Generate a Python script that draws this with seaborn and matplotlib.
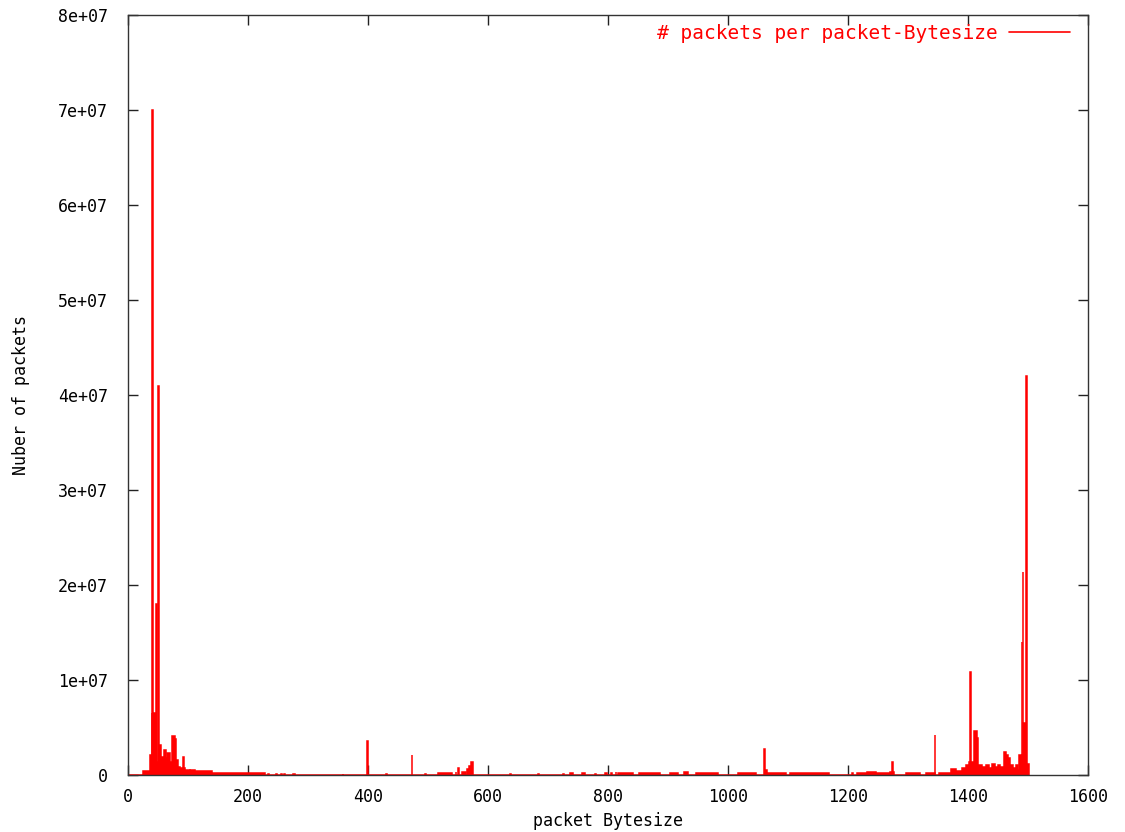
import numpy as np
import pandas as pd
import matplotlib
matplotlib.use("Agg")
import matplotlib.pyplot as plt
import seaborn as sns
from matplotlib.lines import Line2D

# ---- data: runs of packet sizes (inclusive byte ranges) and packet counts ----
seg_lo = [26, 38, 41, 42, 43, 48, 49, 52, 53, 57, 61, 64, 67, 71, 75, 80, 82, 85, 88, 93, 94, 96, 105, 113, 141,
          235, 248, 257, 262, 276, 359, 400, 431, 474, 496, 518, 547, 551, 558, 566, 569, 573,
          638, 685, 726, 738, 757, 780, 796, 806, 814, 817, 853, 904, 928, 947,
          1018, 1061, 1062, 1066, 1104, 1208, 1215, 1233, 1248, 1271, 1274, 1275, 1297, 1330, 1345,
          1352, 1373, 1380, 1391, 1397, 1403, 1404, 1405, 1411, 1415, 1418, 1424, 1431, 1436, 1440,
          1446, 1450, 1454, 1461, 1464, 1467, 1471, 1475, 1481, 1484, 1486, 1490, 1491, 1492, 1493,
          1498, 1499]
seg_hi = [37, 40, 41, 42, 47, 48, 51, 52, 56, 60, 63, 66, 70, 74, 79, 81, 84, 87, 92, 93, 95, 104, 112, 140, 228,
          235, 248, 257, 262, 279, 359, 400, 431, 474, 496, 540, 547, 551, 563, 568, 572, 575,
          638, 685, 726, 741, 761, 780, 799, 806, 814, 842, 886, 917, 933, 983,
          1046, 1061, 1065, 1096, 1168, 1208, 1232, 1247, 1270, 1273, 1274, 1277, 1319, 1344, 1345,
          1372, 1379, 1390, 1396, 1402, 1403, 1404, 1410, 1414, 1417, 1423, 1430, 1435, 1439, 1445,
          1449, 1453, 1460, 1463, 1466, 1470, 1474, 1480, 1483, 1485, 1489, 1490, 1491, 1492, 1497,
          1498, 1502]
seg_count = [4.5e5, 2.1e6, 6.5e6, 7.0e7, 6.5e6, 1.8e7, 1.4e6, 4.1e7, 3.2e6, 1.9e6, 2.6e6, 1.8e6, 2.3e6, 1.4e6,
             4.1e6, 3.8e6, 1.6e6, 8.8e5, 7.5e5, 1.9e6, 7.5e5, 5.7e5, 5.0e5, 4.0e5, 2.5e5,
             1.5e5, 1.5e5, 1.5e5, 1.5e5, 1.5e5, 1.5e5, 3.6e6, 1.5e5, 2.1e6, 1.5e5, 2.5e5, 3.5e5, 7.0e5, 3.0e5,
             6.0e5, 1.0e6, 1.4e6,
             1.5e5, 1.5e5, 1.5e5, 2.0e5, 2.5e5, 1.5e5, 2.0e5, 2.0e5, 3.0e5, 2.0e5, 2.0e5, 2.0e5, 3.0e5, 2.0e5,
             2.2e5, 2.7e6, 5.0e5, 2.5e5, 2.0e5, 2.5e5, 2.0e5, 3.5e5, 2.0e5, 3.0e5, 1.4e6, 3.0e5, 2.5e5, 2.0e5,
             4.2e6,
             2.5e5, 6.0e5, 4.5e5, 7.0e5, 1.05e6, 1.4e6, 1.08e7, 1.4e6, 4.6e6, 3.9e6, 1.05e6, 8.0e5, 1.05e6,
             7.0e5, 1.2e6, 8.8e5, 1.1e6, 8.0e5, 2.4e6, 2.1e6, 1.75e6, 1.05e6, 7.0e5, 1.05e6, 5.0e5, 2.1e6,
             1.4e7, 2.1e6, 2.14e7, 5.5e6, 4.2e7, 1.2e6]

x_ticks = [0, 200, 400, 600, 800, 1000, 1200, 1400, 1600]
y_ticks = [0, 1e7, 2e7, 3e7, 4e7, 5e7, 6e7, 7e7, 8e7]
y_tick_labels = ["0", "1e+07", "2e+07", "3e+07", "4e+07", "5e+07", "6e+07", "7e+07", "8e+07"]
legend_label = "# packets per packet-Bytesize"
x_label = "packet Bytesize"
y_label = "Nuber of packets"

# ---- build table ----
df = pd.DataFrame({"lo": seg_lo, "hi": seg_hi, "count": seg_count})
df["size"] = (df["lo"] + df["hi"]) / 2.0
edges = sorted(set([0.0] + list(df["lo"] - 0.5) + list(df["hi"] + 0.5)))

sns.set_theme(style="ticks")
mono = ["DejaVu Sans Mono"]
plt.rcParams["font.family"] = mono

fig = plt.figure(figsize=(11.25, 8.32), dpi=100)
ax = fig.add_axes([127.5 / 1125, 57 / 832, (1088 - 127.5) / 1125, (775 - 15) / 832])

sns.histplot(data=df, x="size", weights="count", bins=edges, stat="count",
             color="#ff0000", edgecolor="#ff0000", linewidth=1.1, alpha=1.0, ax=ax)

ax.set_xlim(0, 1600)
ax.set_ylim(0, 8e7)
ax.set_xticks(x_ticks)
ax.set_xticklabels([str(t) for t in x_ticks])
ax.set_yticks(y_ticks)
ax.set_yticklabels(y_tick_labels)

ax.tick_params(axis="both", direction="in", length=7, width=1, colors="#222222",
               top=True, right=True, labelsize=12, labelcolor="black")
ax.tick_params(axis="y", pad=14)
ax.tick_params(axis="x", pad=9)
for sp in ax.spines.values():
    sp.set_visible(True)
    sp.set_color("#333333")
    sp.set_linewidth(1.0)

ax.set_xlabel(x_label, fontsize=12, color="black", labelpad=5)
ax.set_ylabel(y_label, fontsize=12, color="black", labelpad=20)
ax.grid(False)

handle = Line2D([], [], color="#ff0000", linewidth=1.2)
leg = ax.legend([handle], [legend_label], loc="upper right", frameon=False, markerfirst=False,
                fontsize=14, labelcolor="#ff0000", handlelength=3.1, handletextpad=0.6,
                borderaxespad=0.2, borderpad=0.25, bbox_to_anchor=(0.99, 1.0))

fig.savefig("out.png", dpi=100, facecolor="white")
